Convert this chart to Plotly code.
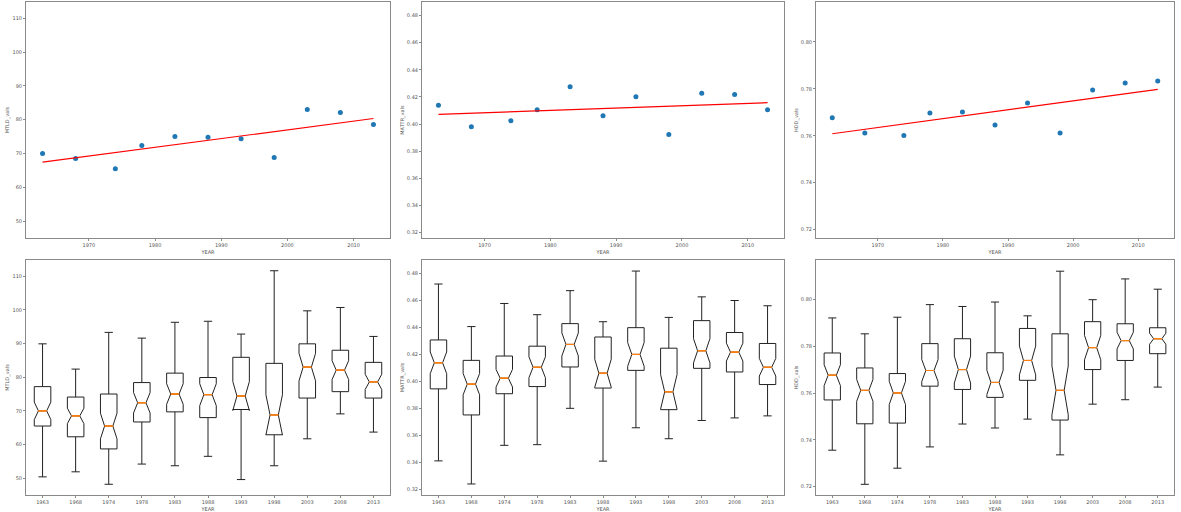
import numpy as np
import plotly.graph_objects as go

# ---------------- data ----------------
years = [1963, 1968, 1974, 1978, 1983, 1988, 1993, 1998, 2003, 2008, 2013]
year_labels = [str(y) for y in years]
n_texts = [50, 65, 45, 37, 35, 33, 32, 31, 38, 48, 54]

mtld_low = [50.4, 51.9, 48.2, 54.2, 53.7, 56.5, 49.6, 53.7, 61.7, 69.1, 63.7]
mtld_q1 = [65.5, 62.3, 58.7, 66.7, 69.7, 68.0, 70.4, 62.9, 73.8, 75.7, 73.8]
mtld_med = [70.0, 68.5, 65.5, 72.4, 75.0, 74.8, 74.4, 68.8, 83.0, 82.1, 78.6]
mtld_q3 = [77.2, 74.1, 75.0, 78.4, 81.2, 79.9, 85.9, 84.1, 89.9, 88.0, 84.4]
mtld_high = [89.9, 82.4, 93.3, 91.6, 96.3, 96.6, 92.8, 111.6, 99.7, 100.7, 92.1]

mattr_low = [0.3413, 0.3242, 0.3528, 0.3533, 0.3802, 0.3411, 0.3658, 0.3577, 0.3712, 0.3731, 0.3746]
mattr_q1 = [0.3946, 0.3753, 0.3910, 0.3963, 0.4108, 0.3952, 0.4083, 0.3792, 0.4098, 0.4071, 0.3978]
mattr_med = [0.4139, 0.3981, 0.4025, 0.4106, 0.4275, 0.4062, 0.4201, 0.3924, 0.4228, 0.4218, 0.4106]
mattr_q3 = [0.4308, 0.4157, 0.4189, 0.4262, 0.4429, 0.4330, 0.4399, 0.4247, 0.4451, 0.4363, 0.4282]
mattr_high = [0.4722, 0.4407, 0.4578, 0.4495, 0.4673, 0.4443, 0.4818, 0.4475, 0.4627, 0.4600, 0.4561]

hdd_low = [0.7356, 0.7210, 0.7279, 0.7370, 0.7468, 0.7451, 0.7489, 0.7336, 0.7553, 0.7572, 0.7626]
hdd_q1 = [0.7571, 0.7469, 0.7472, 0.7630, 0.7616, 0.7582, 0.7655, 0.7485, 0.7701, 0.7740, 0.7769]
hdd_med = [0.7677, 0.7612, 0.7601, 0.7697, 0.7701, 0.7646, 0.7740, 0.7612, 0.7795, 0.7825, 0.7833]
hdd_q3 = [0.7772, 0.7708, 0.7684, 0.7812, 0.7833, 0.7773, 0.7877, 0.7854, 0.7906, 0.7897, 0.7880]
hdd_high = [0.7922, 0.7854, 0.7925, 0.7979, 0.7971, 0.7990, 0.7931, 0.8122, 0.8000, 0.8089, 0.8045]

metrics = [
    ("MTLD_vals", mtld_low, mtld_q1, mtld_med, mtld_q3, mtld_high, [45.0, 114.8], 50, 10, "d"),
    ("MATTR_vals", mattr_low, mattr_q1, mattr_med, mattr_q3, mattr_high, [0.3160, 0.4900], 0.32, 0.02, ".2f"),
    ("HDD_vals", hdd_low, hdd_q1, hdd_med, hdd_q3, hdd_high, [0.7164, 0.8170], 0.72, 0.02, ".2f"),
]

# ---------------- layout geometry ----------------
W, H = 1181, 512
col_px = [(26, 390), (422, 784), (816, 1174)]
top_px = (2, 239)
bot_px = (261, 497)

def xdom(c):
    return [c[0] / W, c[1] / W]

def ydom(r):
    return [1 - r[1] / H, 1 - r[0] / H]

FONT = "DejaVu Sans"
SPINE = "#8a8a8a"
TICKC = "#555555"

fig = go.Figure()
layout = dict(
    width=W, height=H,
    margin=dict(l=0, r=0, t=0, b=0),
    paper_bgcolor="white", plot_bgcolor="white",
    showlegend=False,
    font=dict(family=FONT, size=5, color=TICKC),
    boxmode="overlay",
)

def axis_common():
    return dict(
        showline=True, mirror=True, linecolor=SPINE, linewidth=1,
        ticks="outside", ticklen=2, tickcolor=SPINE, tickwidth=1,
        tickfont=dict(family=FONT, size=5, color=TICKC),
        showgrid=False, zeroline=False,
    )

yrs = np.array(years, dtype=float)

for i, (name, lo, q1, med, q3, hi, yr, t0, dt, fmt) in enumerate(metrics):
    top = i + 1
    bot = i + 4
    xa_t, ya_t = f"x{top}", f"y{top}"
    xa_b, ya_b = f"x{bot}", f"y{bot}"

    # ---- top: scatter of medians + regression line ----
    fig.add_trace(go.Scatter(
        x=years, y=med, mode="markers",
        marker=dict(color="#1f77b4", size=5),
        xaxis=xa_t, yaxis=ya_t, hoverinfo="skip"))
    coef = np.polyfit(yrs, np.array(med), 1)
    fit = np.polyval(coef, yrs)
    fig.add_trace(go.Scatter(
        x=years, y=fit, mode="lines",
        line=dict(color="red", width=1.2),
        xaxis=xa_t, yaxis=ya_t, hoverinfo="skip"))

    # ---- bottom: notched boxplots ----
    iqr = np.array(q3) - np.array(q1)
    notch = 1.57 * iqr / np.sqrt(np.array(n_texts, dtype=float))
    fig.add_trace(go.Box(
        x=year_labels, q1=q1, median=med, q3=q3,
        lowerfence=lo, upperfence=hi,
        notched=True, notchspan=list(notch), notchwidth=0.25,
        width=0.5, whiskerwidth=0.5, boxpoints=False,
        line=dict(color="#222222", width=1),
        fillcolor="rgba(0,0,0,0)",
        xaxis=xa_b, yaxis=ya_b, hoverinfo="skip"))
    # orange median line overlay
    fig.add_trace(go.Box(
        x=year_labels, q1=med, median=med, q3=med,
        lowerfence=med, upperfence=med,
        width=0.25, whiskerwidth=0, boxpoints=False,
        line=dict(color="#ff7f0e", width=1),
        fillcolor="rgba(0,0,0,0)",
        xaxis=xa_b, yaxis=ya_b, hoverinfo="skip"))

    c = col_px[i]
    ticks_y = dict(tick0=t0, dtick=dt, tickformat=fmt)

    xk_t = "xaxis" if top == 1 else f"xaxis{top}"
    yk_t = "yaxis" if top == 1 else f"yaxis{top}"
    layout[xk_t] = dict(
        axis_common(), domain=xdom(c), anchor=ya_t,
        range=[1960.5, 2015.5], tick0=1970, dtick=10,
        title=dict(text="YEAR", font=dict(family=FONT, size=5, color=TICKC), standoff=3),
    )
    layout[yk_t] = dict(
        axis_common(), domain=ydom(top_px), anchor=xa_t,
        range=yr, **ticks_y,
        title=dict(text=name, font=dict(family=FONT, size=5, color=TICKC), standoff=2),
    )
    layout[f"xaxis{bot}"] = dict(
        axis_common(), domain=xdom(c), anchor=ya_b,
        type="category", range=[-0.5, 10.5],
        title=dict(text="YEAR", font=dict(family=FONT, size=5, color=TICKC), standoff=3),
    )
    layout[f"yaxis{bot}"] = dict(
        axis_common(), domain=ydom(bot_px), anchor=xa_b,
        range=yr, **ticks_y,
        title=dict(text=name, font=dict(family=FONT, size=5, color=TICKC), standoff=2),
    )

fig.update_layout(**layout)
fig.write_html(
    "out.html",
    config={"displayModeBar": False},
    post_script="document.body.style.margin='0';document.body.style.padding='0';",
)
